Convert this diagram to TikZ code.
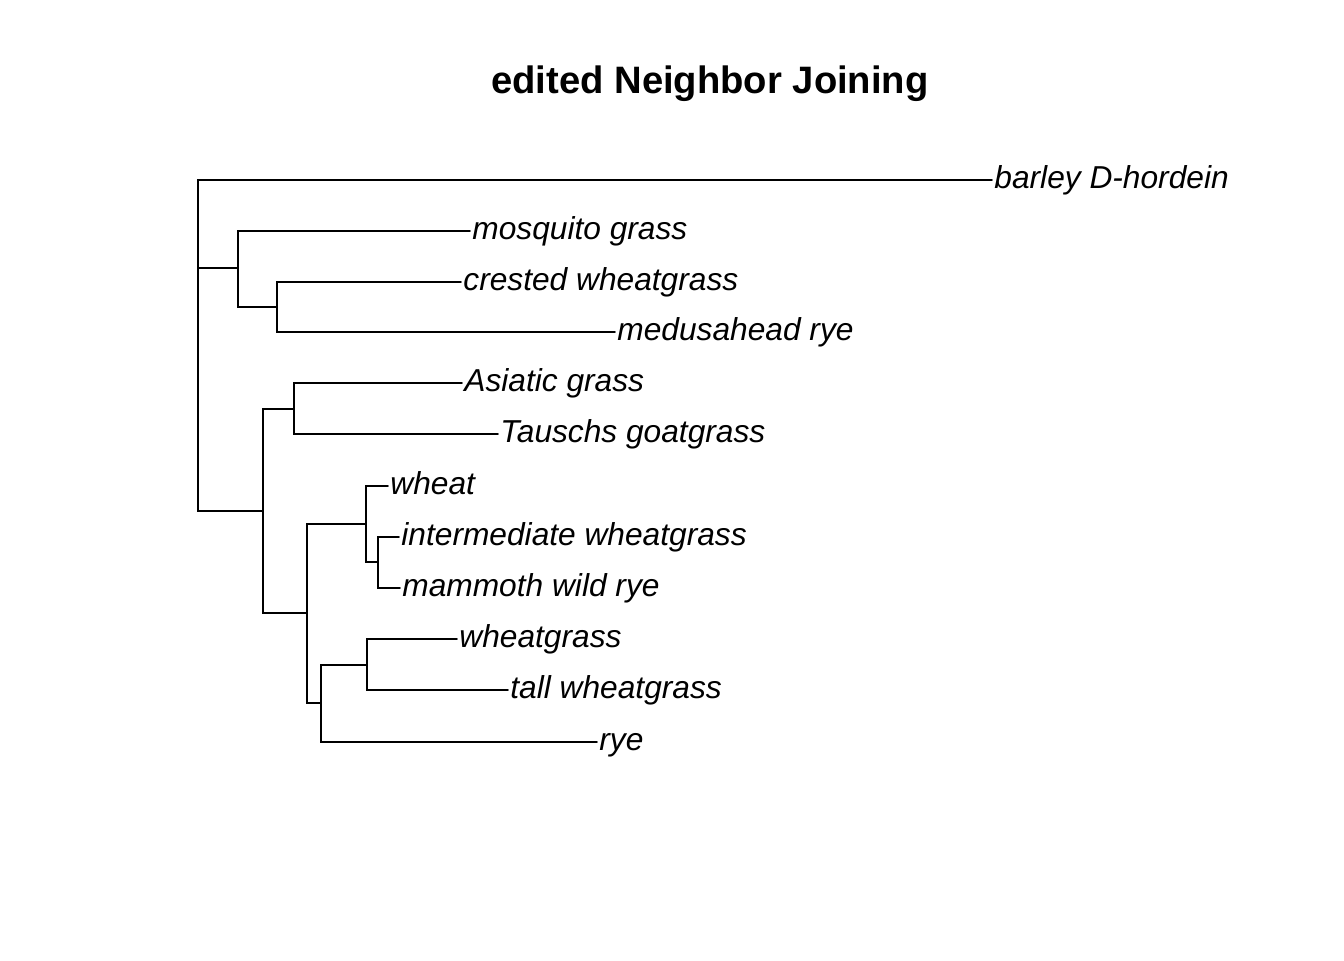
\documentclass[tikz,border=0pt]{standalone}
\usepackage{fontspec}
\setmainfont{Liberation Sans}
\begin{document}
\begin{tikzpicture}[x=0.5pt,y=-0.5pt,
  edge/.style={line width=0.9pt, line cap=round, line join=miter},
  tiplabel/.style={anchor=base west, inner sep=0pt, xshift=1pt, yshift=-4.3pt, font=\itshape\fontsize{15.85}{19}\selectfont},
  titlestyle/.style={anchor=base, inner sep=0pt, font=\bfseries\fontsize{19.1}{23}\selectfont}]
\useasboundingbox (0,0) rectangle (1344,960);
\node[titlestyle] (title) at (710,93) {edited Neighbor Joining};
% internal nodes
\coordinate (root) at (198,268);
\coordinate (A) at (238,268);
\coordinate (B) at (277,307);
\coordinate (C) at (263,511);
\coordinate (D) at (294,409);
\coordinate (E) at (307,613);
\coordinate (F) at (366,524);
\coordinate (H) at (378,562);
\coordinate (G) at (321,703);
\coordinate (I) at (367,665);
% tips
\coordinate (t1) at (992,180);
\coordinate (t2) at (470,231);
\coordinate (t3) at (461,282);
\coordinate (t4) at (615,332);
\coordinate (t5) at (462,383);
\coordinate (t6) at (498,434);
\coordinate (t7) at (388,486);
\coordinate (t8) at (399,537);
\coordinate (t9) at (400,588);
\coordinate (t10) at (457,639);
\coordinate (t11) at (508,690);
\coordinate (t12) at (597,742);
% edges
\draw[edge] (root) |- (t1);
\draw[edge] (root) |- (A);
\draw[edge] (root) |- (C);
\draw[edge] (A) |- (t2);
\draw[edge] (A) |- (B);
\draw[edge] (B) |- (t3);
\draw[edge] (B) |- (t4);
\draw[edge] (C) |- (D);
\draw[edge] (C) |- (E);
\draw[edge] (D) |- (t5);
\draw[edge] (D) |- (t6);
\draw[edge] (E) |- (F);
\draw[edge] (E) |- (G);
\draw[edge] (F) |- (t7);
\draw[edge] (F) |- (H);
\draw[edge] (H) |- (t8);
\draw[edge] (H) |- (t9);
\draw[edge] (G) |- (I);
\draw[edge] (G) |- (t12);
\draw[edge] (I) |- (t10);
\draw[edge] (I) |- (t11);
% labels
\node[tiplabel] (l1) at (t1) {barley D-hordein};
\node[tiplabel] (l2) at (t2) {mosquito grass};
\node[tiplabel] (l3) at (t3) {crested wheatgrass};
\node[tiplabel] (l4) at (t4) {medusahead rye};
\node[tiplabel] (l5) at (t5) {Asiatic grass};
\node[tiplabel] (l6) at (t6) {Tauschs goatgrass};
\node[tiplabel] (l7) at (t7) {wheat};
\node[tiplabel] (l8) at (t8) {intermediate wheatgrass};
\node[tiplabel] (l9) at (t9) {mammoth wild rye};
\node[tiplabel] (l10) at (t10) {wheatgrass};
\node[tiplabel] (l11) at (t11) {tall wheatgrass};
\node[tiplabel] (l12) at (t12) {rye};
\end{tikzpicture}
\end{document}
